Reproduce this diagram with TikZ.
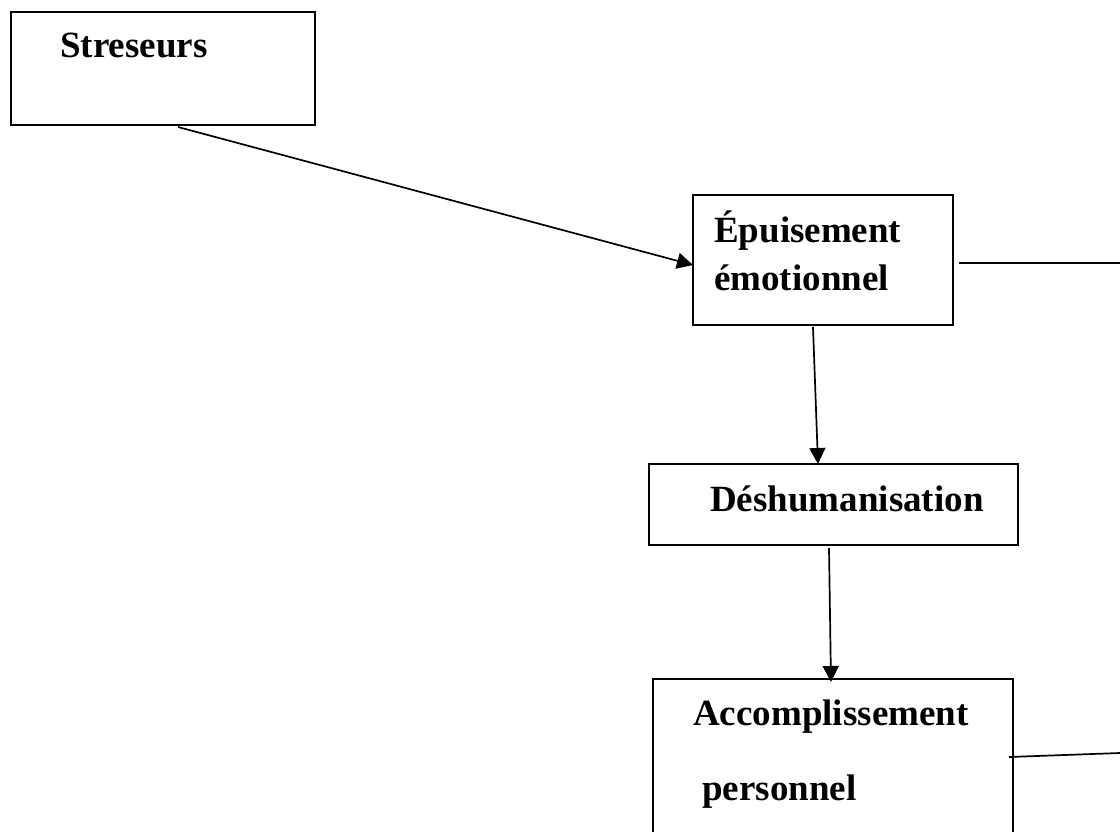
\documentclass[tikz,border=0pt]{standalone}
\usepackage{fontspec}
\setmainfont{Liberation Serif}
\usetikzlibrary{arrows.meta}
\begin{document}
\begin{tikzpicture}[x=1pt,y=-1pt,
  box/.style={draw,line width=1.8pt,inner sep=0pt,outer sep=0pt,anchor=north west},
  lbl/.style={font=\fontsize{37}{44}\selectfont\bfseries,anchor=base west,inner sep=0pt},
  conn/.style={line width=1.7pt},
  arr/.style={conn,-{Triangle[length=16pt,width=16pt]}}]
\useasboundingbox (0,0) rectangle (1120,831);
\clip (0,0) rectangle (1120,831);
% boxes
\node[box,minimum width=304pt,minimum height=113pt] (stre) at (11,12) {};
\node[box,minimum width=260pt,minimum height=130pt] (epu) at (693,195) {};
\node[box,minimum width=369pt,minimum height=81pt] (desh) at (649,464) {};
\node[box,minimum width=360pt,minimum height=221pt] (acc) at (653,679) {};
% labels
\node[lbl] (t1) at (60,57) {Streseurs};
\node[lbl] (t2) at (714,242) {Épuisement};
\node[lbl] (t3) at (714,290) {émotionnel};
\node[lbl] (t4) at (710,511) {Déshumanisation};
\node[lbl] (t5) at (693,725) {Accomplissement};
\node[lbl] (t6) at (702,800) {personnel};
% free ends
\coordinate (r1) at (1120,263);
\coordinate (r2) at (1120,753);
% connectors
\draw[arr] ([xshift=167pt,yshift=-2pt]stre.south west) -- ([yshift=-5pt]epu.west);
\draw[conn] ([xshift=6pt,yshift=-3pt]epu.east) -- (r1);
\draw[arr] ([xshift=-10pt,yshift=-2pt]epu.south) -- ([xshift=-15.5pt]desh.north);
\draw[arr] ([xshift=-4.5pt,yshift=-3pt]desh.south) -- ([xshift=-2pt,yshift=-3pt]acc.north);
\draw[conn] ([xshift=-4pt,yshift=-78pt]acc.north east) -- (r2);
\end{tikzpicture}
\end{document}
